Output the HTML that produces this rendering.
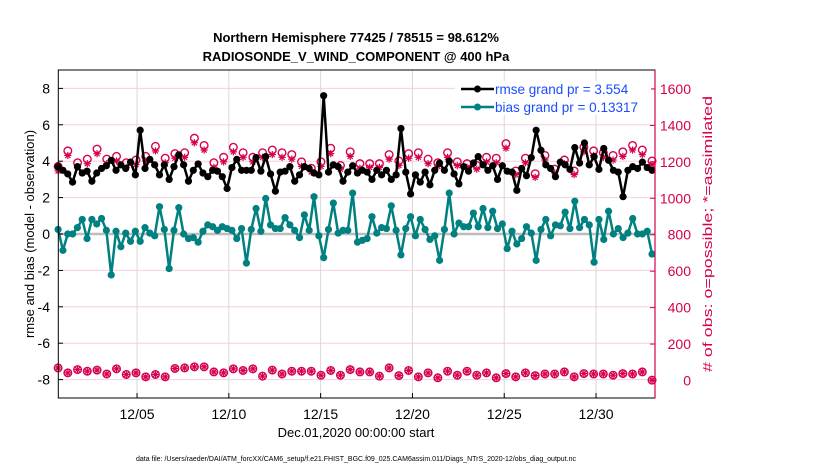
<!DOCTYPE html>
<html><head><meta charset="utf-8"><style>
body{margin:0;background:#fff;}
svg{display:block;font-family:"Liberation Sans",Arial,sans-serif;}
</style></head><body>
<svg id="chart" width="830" height="470">
<rect x="0" y="0" width="830" height="470" fill="#fff"/>
<text x="356" y="42" text-anchor="middle" font-size="13" font-weight="bold">Northern Hemisphere 77425 / 78515 = 98.612%</text>
<text x="356" y="61" text-anchor="middle" font-size="13" font-weight="bold">RADIOSONDE_V_WIND_COMPONENT @ 400 hPa</text>
<g id="grid"></g>
<g id="marks"></g>
<rect x="58.3" y="70" width="596.7" height="328" fill="none" stroke="#000" stroke-width="1"/>
<line x1="655" y1="70" x2="655" y2="398" stroke="#d6004f" stroke-width="1.2"/>
<g id="axes"></g>
<text transform="translate(34,234) rotate(-90)" text-anchor="middle" font-size="13">rmse and bias (model - observation)</text>
<text transform="translate(712,234) rotate(-90)" text-anchor="middle" font-size="12.5" textLength="276" lengthAdjust="spacingAndGlyphs" fill="#d6004f"># of obs: o=possible; *=assimilated</text>
<text x="356" y="437" text-anchor="middle" font-size="13">Dec.01,2020 00:00:00 start</text>
<text x="356" y="461" text-anchor="middle" font-size="7" textLength="440" lengthAdjust="spacingAndGlyphs">data file: /Users/raeder/DAI/ATM_forcXX/CAM6_setup/f.e21.FHIST_BGC.f09_025.CAM6assim.011/Diags_NTrS_2020-12/obs_diag_output.nc</text>
<g>
<rect x="455" y="81" width="196" height="34" fill="#fff"/>
<line x1="461" y1="89" x2="494" y2="89" stroke="#000" stroke-width="2.5"/>
<circle cx="477.5" cy="89" r="3.5" fill="#000"/>
<text x="495" y="94" font-size="13.5" fill="#1a4dff">rmse grand pr = 3.554</text>
<line x1="461" y1="107" x2="494" y2="107" stroke="#008080" stroke-width="2.5"/>
<circle cx="477.5" cy="107" r="3.5" fill="#008080"/>
<text x="495" y="112" font-size="13.5" fill="#1a4dff">bias grand pr = 0.13317</text>
</g>
</svg>
<script>
const rmse=[3.7,3.5,3.3,2.85,3.7,3.35,3.45,2.9,3.35,3.6,3.75,4.05,3.5,3.8,3.6,3.95,3.25,5.7,3.6,4.1,3.8,3.25,3.8,3.0,3.7,4.35,3.8,2.9,3.5,3.85,3.35,3.15,3.5,3.45,3.15,2.5,3.65,4.1,3.5,3.5,3.5,4.2,3.45,4.25,
3.3,2.35,3.4,3.45,3.7,2.9,3.25,3.7,3.6,3.35,3.25,7.6,3.4,3.8,3.7,2.9,3.4,3.75,3.35,3.5,3.4,3.0,3.5,3.25,3.5,3.0,3.25,5.8,3.4,2.2,3.25,2.85,3.4,2.7,3.5,3.9,3.5,4.0,3.3,2.75,3.7,
3.45,3.9,4.25,3.8,3.5,3.75,3.0,3.75,3.45,3.4,2.4,3.6,3.2,4.2,5.7,4.6,3.8,3.6,3.15,3.95,3.8,3.55,4.75,3.9,5.0,3.8,4.25,3.55,4.7,4.05,3.5,3.4,2.05,3.5,3.7,3.6,3.95,3.65,3.5];
const bias=[0.25,-0.9,0,0,0.35,0.8,-0.25,0.8,0.55,0.85,0.2,-2.25,0.15,-0.7,0.05,-0.4,0.15,-0.4,0.35,0.05,-0.1,1.5,0.25,-1.9,0.2,1.45,0,-0.25,-0.2,-0.45,0.15,0.5,0.4,0.2,0.4,0.3,0.2,-0.25,0.3,-1.6,0.25,1.4,0.15,1.95,
0.5,0.3,0.3,0.9,0.5,0.2,-0.2,1.05,0.2,2.05,-0.1,-1.3,0.25,1.7,0.05,0.2,0.2,2.25,-0.45,-0.35,-0.25,0.95,0.05,0.35,0.3,1.55,0.2,-1.15,0.3,0.95,-0.1,0.8,0.25,-0.3,-0.1,-1.45,0.25,2.25,0,0.6,0.4,
0.4,1.15,0.4,1.4,0.35,1.25,0.3,0.55,-0.8,0.15,-0.55,-0.25,0.4,0.05,-1.45,0.25,0.8,-0.1,0.5,0.45,1.2,0.3,1.8,0.35,0.8,0.5,-1.55,0.8,-0.3,1.25,0,0.3,-0.2,0.05,0.85,0,0,0.15,-1.1];
const obsPossible=[1175,1260,1195,1215,1270,1215,1230,1195,1210,1230,1285,1220,1245,1250,1330,1290,1195,1225,1280,1250,1225,1250,1265,1250,1240,1200,1165,1200,1275,1180,1255,1190,1190,1190,1240,1205,1245,1250,1215,1195,1250,1200,1190,1180,1225,1220,1300,1150,1220,1135,1235,1160,1210,1150,1280,1260,1250,1235,1255,1290,1265,1205];
const obsAssimilated=[1150,1235,1170,1190,1245,1190,1205,1170,1185,1205,1260,1195,1220,1225,1305,1265,1170,1200,1255,1225,1200,1225,1240,1225,1215,1175,1145,1175,1245,1160,1230,1165,1170,1170,1215,1180,1220,1225,1190,1175,1225,1180,1170,1160,1200,1195,1275,1130,1195,1115,1210,1140,1190,1130,1255,1235,1225,1210,1230,1265,1240,1185];
const lowPossible=[69,42,60,51,57,36,64,33,42,20,33,20,66,69,75,75,47,42,64,55,64,24,57,36,51,51,51,29,55,29,60,47,47,24,69,27,55,20,42,15,51,29,51,29,42,15,38,20,42,27,36,36,47,20,38,36,36,29,38,36,47,2];
const lowAssimilated=[69,42,60,51,57,36,64,33,42,20,33,20,66,69,75,75,47,42,64,55,64,24,57,36,51,51,51,29,55,29,60,47,47,24,69,27,55,20,42,15,51,29,51,29,42,15,38,20,42,27,36,36,47,20,38,36,36,29,38,36,47,2];
const leftTicks=[-8,-6,-4,-2,0,2,4,6,8];
const rightTicks=[0,200,400,600,800,1000,1200,1400,1600];
const dayTicks=[4,9,14,19,24,29];
const dayLabels=["12/05","12/10","12/15","12/20","12/25","12/30"];

const NS="http://www.w3.org/2000/svg";
const tStart=-0.3,tEnd=32.05;
const X=t=>63.6+t*18.36;
const YL=v=>234-v*18.2;
const YR=v=>380.5-v*0.1822;
function mk(tag,attrs,parent){const e=document.createElementNS(NS,tag);for(const k in attrs)e.setAttribute(k,attrs[k]);parent.appendChild(e);return e;}
const grid=document.getElementById('grid'),marks=document.getElementById('marks'),axes=document.getElementById('axes');
leftTicks.forEach(v=>{
  const g=mk('line',{x1:58.3,x2:655,y1:YL(v),y2:YL(v),stroke:'#f4d0dc','stroke-width':1},grid);
  
  
  const tk=mk('line',{x1:58.3,x2:63,y1:YL(v),y2:YL(v),stroke:'#000'},axes);
  
  
  const t=mk('text',{x:50,y:YL(v)+5,'text-anchor':'end','font-size':14},axes);
  t.textContent=v;
  
  
});
rightTicks.forEach(v=>{
  const tk=mk('line',{x1:650,x2:655,y1:YR(v),y2:YR(v),stroke:'#d6004f'},axes);
  
  
  const t=mk('text',{x:691,y:YR(v)+5,'text-anchor':'end','font-size':14,fill:'#d6004f'},axes);
  t.textContent=v;
  
  
});
dayTicks.forEach((d,i)=>{
  const g=mk('line',{x1:X(d),x2:X(d),y1:70,y2:398,stroke:'#d8d8d8','stroke-width':1},grid);
  
  
  const tk=mk('line',{x1:X(d),x2:X(d),y1:393,y2:398,stroke:'#000'},axes);
  
  
  const t=mk('text',{x:X(d),y:419,'text-anchor':'middle','font-size':14},axes);
  t.textContent=dayLabels[i];
  
  
});
const zl=mk('line',{x1:58.3,x2:655,y1:YL(0),y2:YL(0),stroke:'#bcbcbc','stroke-width':2.5},grid);



function series(arr,color,name){
  const dt=(tEnd-tStart)/(arr.length-1);
  const pts=arr.map((v,i)=>[X(tStart+i*dt),YL(v)]);
  const pl=mk('polyline',{points:pts.map(p=>p.join(',')).join(' '),fill:'none',stroke:color,'stroke-width':2.5,'stroke-linejoin':'round'},marks);
  
  
  pts.forEach(p=>{
    const c=mk('circle',{cx:p[0],cy:p[1],r:3.6,fill:color},marks);
    
    
  });
}
function star(x,y,r,parent){
  const g=mk('g',{stroke:'#d6004f','stroke-width':1.2},parent);
  for(let a=0;a<4;a++){const an=a*Math.PI/4;mk('line',{x1:x-r*Math.cos(an),y1:y-r*Math.sin(an),x2:x+r*Math.cos(an),y2:y+r*Math.sin(an)},g);}
  return g;
}
function obs(pos,asm,name){
  const dt=(tEnd-tStart)/(pos.length-1);
  pos.forEach((v,i)=>{
    const x=X(tStart+i*dt);
    const c=mk('circle',{cx:x,cy:YR(v),r:3.8,fill:'none',stroke:'#d6004f','stroke-width':1.4},marks);
    
    
    const s=star(x,YR(asm[i]),3.6,marks);
    
    
  });
}
obs(obsPossible,obsAssimilated,'obs-count');
obs(lowPossible,lowAssimilated,'obs-count-low');
series(bias,'#008080','bias');
series(rmse,'#000000','rmse');
</script>
</body></html>
